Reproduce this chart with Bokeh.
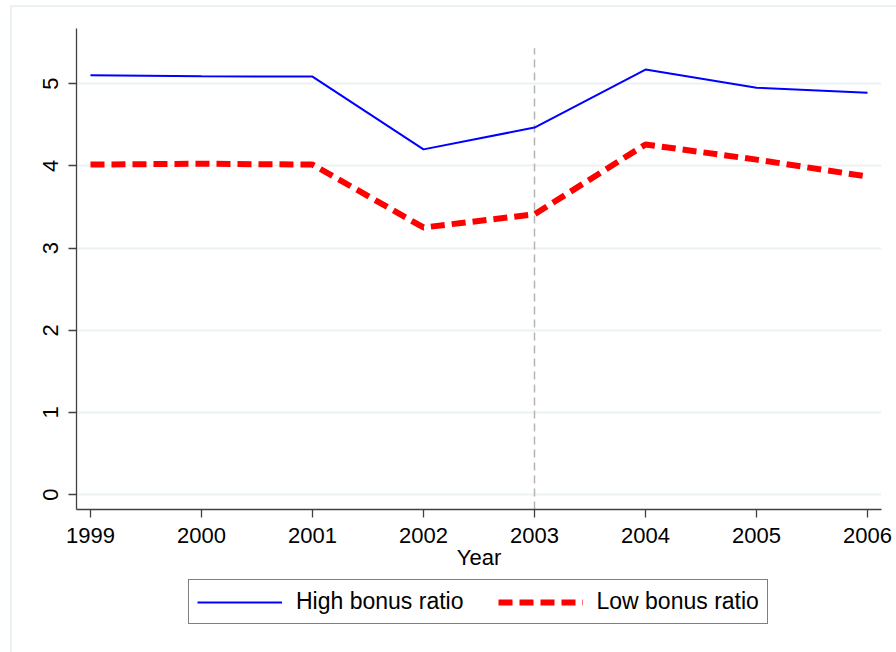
from bokeh.plotting import figure
from bokeh.layouts import column
from bokeh.models import Range1d, FixedTicker, Legend, LegendItem
from bokeh.embed import file_html
from bokeh.resources import INLINE

# Mean values by year for the two bonus-ratio groups
years = [1999, 2000, 2001, 2002, 2003, 2004, 2005, 2006]
high_bonus = [5.10, 5.09, 5.085, 4.20, 4.465, 5.17, 4.95, 4.89]
low_bonus = [4.015, 4.025, 4.015, 3.25, 3.41, 4.26, 4.075, 3.87]

y_ticks = [0, 1, 2, 3, 4, 5]
event_year = 2003
event_line_top = 5.43

x_lo, x_hi = 1998.874, 2006.126
y_lo, y_hi = -0.18, 5.67

FONT = "Liberation Sans"
AXIS_COLOR = "#404040"
GRID_COLOR = "#eaf2f3"
HIGH_COLOR = "#0000ff"
LOW_COLOR = "#ff0000"
LOW_DASH = "14 7"

p = figure(
    width=886, height=568,
    x_range=Range1d(x_lo, x_hi), y_range=Range1d(y_lo, y_hi),
    output_backend="svg", toolbar_location=None,
    min_border_left=64, min_border_top=21, min_border_right=17, min_border_bottom=66,
)
p.outline_line_color = None
p.background_fill_color = "white"
p.border_fill_color = "white"

# grid: horizontal only
p.xgrid.visible = False
p.ygrid.ticker = FixedTicker(ticks=y_ticks)
p.ygrid.grid_line_color = GRID_COLOR
p.ygrid.grid_line_width = 2

# axes
p.xaxis.ticker = FixedTicker(ticks=years)
p.yaxis.ticker = FixedTicker(ticks=y_ticks)
for ax in (p.xaxis[0], p.yaxis[0]):
    ax.axis_line_color = AXIS_COLOR
    ax.axis_line_width = 1.3
    ax.major_tick_line_color = AXIS_COLOR
    ax.major_tick_line_width = 1.3
    ax.major_tick_out = 8
    ax.major_tick_in = 0
    ax.minor_tick_line_color = None
    ax.major_label_text_font = FONT
    ax.major_label_text_font_size = "22px"
    ax.major_label_text_color = "black"
    ax.major_label_standoff = 10
    ax.axis_label_text_font = FONT
    ax.axis_label_text_font_size = "22px"
    ax.axis_label_text_font_style = "normal"
    ax.axis_label_text_color = "black"
p.yaxis.major_label_orientation = "vertical"
p.xaxis.axis_label = "Year"
p.xaxis.axis_label_standoff = -1

# vertical reference line at the event year
p.segment(x0=[event_year], y0=[y_lo], x1=[event_year], y1=[event_line_top],
          line_color="#b4b4b4", line_width=1.5, line_dash="8 5")

p.line(years, high_bonus, line_color=HIGH_COLOR, line_width=2)
p.line(years, low_bonus, line_color=LOW_COLOR, line_width=6, line_dash=LOW_DASH)

# legend strip underneath the plot (its frame lines up with the plot frame)
leg = figure(
    width=886, height=79, x_range=Range1d(0, 1), y_range=Range1d(0, 1),
    x_axis_type=None, y_axis_type=None,
    output_backend="svg", toolbar_location=None,
    min_border=0,
)
leg.outline_line_color = None
leg.background_fill_color = "white"
leg.border_fill_color = "white"
leg.xgrid.visible = False
leg.ygrid.visible = False
nan = float("nan")
k_high = leg.line(x=[nan], y=[nan], line_color=HIGH_COLOR, line_width=2)
k_low = leg.line(x=[nan], y=[nan], line_color=LOW_COLOR, line_width=6, line_dash=LOW_DASH)

legend = Legend(
    items=[LegendItem(label="High bonus ratio", renderers=[k_high]),
           LegendItem(label="Low bonus ratio", renderers=[k_low])],
    orientation="horizontal", location=(112, 30),
    border_line_color="black", border_line_width=1,
    padding=8, spacing=34, label_standoff=14,
    glyph_width=85, glyph_height=20,
    label_text_font=FONT, label_text_font_size="23px", label_text_color="black",
    margin=0,
)
leg.add_layout(legend, "center")

page = column(p, leg, spacing=0)
page.margin = (5, 0, 0, 10)
page.styles = {"border-left": "2px solid " + GRID_COLOR, "border-top": "2px solid " + GRID_COLOR}

open("out.html", "w").write(file_html(page, INLINE))
